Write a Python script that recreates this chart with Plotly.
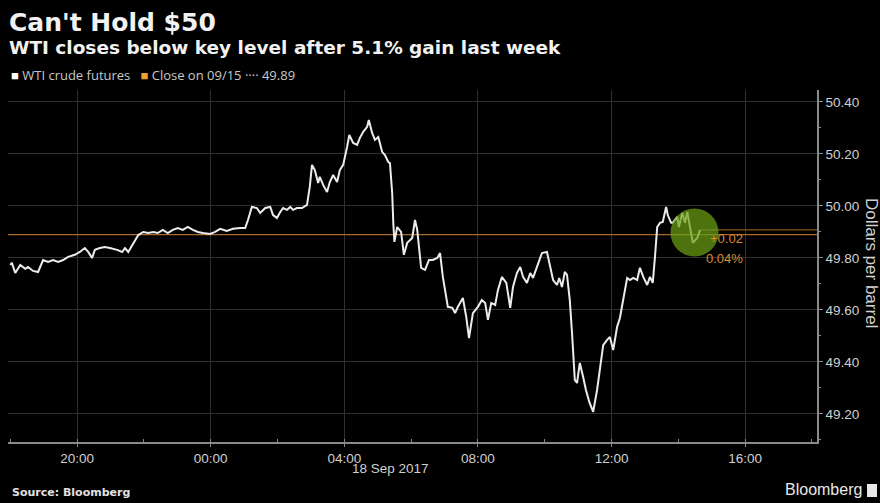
import pandas as pd
import plotly.graph_objects as go

# ---- data ----
minutes = [0, 3, 9, 18, 27, 32, 41, 50, 59, 68, 77, 86, 95, 104, 116, 125, 134, 140, 147, 152,
           161, 170, 179, 192, 201, 206, 212, 221, 230, 239, 248, 257, 265, 274, 283, 292, 301, 310, 319, 328,
           337, 346, 359, 368, 377, 389, 400, 413, 422, 427, 434, 443, 449, 458, 467, 472, 479, 485, 490, 497,
           503, 508, 515, 524, 533, 538, 542, 547, 553, 556, 562, 569, 574, 580, 587, 592, 598, 605, 609, 616,
           623, 628, 634, 641, 644, 650, 655, 661, 668, 673, 679, 682, 686, 688, 690, 695, 702, 707, 713, 722,
           727, 731, 738, 745, 752, 759, 767, 772, 777, 786, 794, 799, 804, 813, 819, 824, 831, 840, 847, 853,
           858, 864, 871, 876, 883, 891, 898, 903, 910, 916, 921, 928, 934, 939, 946, 955, 964, 970, 975, 982,
           986, 991, 996, 1000, 1005, 1009, 1014, 1018, 1023, 1029, 1034, 1040, 1047, 1054, 1059, 1065, 1072, 1077, 1083, 1090,
           1095, 1101, 1108, 1113, 1119, 1126, 1131, 1137, 1144, 1149, 1154, 1158, 1162, 1167, 1172, 1178, 1181, 1187, 1190, 1198,
           1201, 1207, 1212, 1216, 1221, 1226, 1234, 1239]
price = [49.773, 49.781, 49.742, 49.773, 49.758, 49.765, 49.750, 49.746, 49.792, 49.785, 49.792, 49.785, 49.792, 49.804, 49.812, 49.823, 49.838, 49.823, 49.800, 49.831,
         49.838, 49.842, 49.838, 49.831, 49.823, 49.838, 49.823, 49.858, 49.888, 49.900, 49.896, 49.900, 49.896, 49.908, 49.896, 49.908, 49.915, 49.908, 49.919, 49.908,
         49.900, 49.896, 49.892, 49.900, 49.912, 49.904, 49.912, 49.915, 49.915, 49.946, 49.996, 49.992, 49.973, 49.992, 49.996, 49.965, 49.954, 49.977, 49.992, 49.985,
         49.996, 49.985, 49.992, 49.992, 50.004, 50.073, 50.158, 50.138, 50.088, 50.112, 50.081, 50.054, 50.092, 50.119, 50.092, 50.138, 50.158, 50.227, 50.273, 50.242,
         50.235, 50.262, 50.285, 50.304, 50.331, 50.281, 50.254, 50.265, 50.208, 50.196, 50.169, 50.165, 50.050, 49.935, 49.862, 49.919, 49.900, 49.812, 49.858, 49.877,
         49.946, 49.908, 49.762, 49.754, 49.792, 49.792, 49.800, 49.819, 49.727, 49.612, 49.608, 49.588, 49.612, 49.646, 49.573, 49.492, 49.588, 49.612, 49.638, 49.627,
         49.562, 49.627, 49.619, 49.677, 49.727, 49.704, 49.608, 49.688, 49.742, 49.765, 49.727, 49.704, 49.742, 49.723, 49.762, 49.819, 49.823, 49.765, 49.715, 49.696,
         49.723, 49.688, 49.746, 49.735, 49.638, 49.512, 49.331, 49.319, 49.396, 49.342, 49.292, 49.246, 49.208, 49.292, 49.381, 49.465, 49.485, 49.496, 49.446, 49.535,
         49.569, 49.638, 49.723, 49.715, 49.723, 49.715, 49.762, 49.727, 49.696, 49.727, 49.704, 49.804, 49.919, 49.935, 49.938, 49.996, 49.965, 49.935, 49.935, 49.958,
         49.919, 49.973, 49.935, 49.977, 49.919, 49.858, 49.877, 49.908]
start_time = "2017-09-17 18:00"
prev_close = 49.89
change = "+0.02"
change_pct = "0.04%"
y_ticks = [49.20, 49.40, 49.60, 49.80, 50.00, 50.20, 50.40]

times = pd.Timestamp(start_time) + pd.to_timedelta(minutes, unit="min")

ORANGE = "#d98a35"
GRID = "#303030"
AXIS = "#8a8a8a"
TXT = "#d0d0d0"

fig = go.Figure()
x_lo = pd.Timestamp("2017-09-17 17:56")
x_hi = pd.Timestamp("2017-09-18 18:09")

# previous close line
fig.add_trace(go.Scatter(x=[x_lo, x_hi], y=[prev_close, prev_close], mode="lines",
                         line=dict(color="#a8682e", width=1.2), hoverinfo="skip", showlegend=False))
# last price line
fig.add_trace(go.Scatter(x=[times[-1], x_hi], y=[price[-1], price[-1]], mode="lines",
                         line=dict(color="#a8682e", width=1), hoverinfo="skip", showlegend=False))
# price line
fig.add_trace(go.Scatter(x=times, y=price, mode="lines",
                         line=dict(color="#ececec", width=2), showlegend=False))
# highlight circle at the latest price
fig.add_trace(go.Scatter(x=[times[-1] - pd.Timedelta(minutes=10)], y=[price[-1] - 0.01], mode="markers",
                         marker=dict(size=48, color="rgba(105,160,20,0.72)", line=dict(width=0)),
                         hoverinfo="skip", showlegend=False))

def py(px):  # pixel row -> paper y
    return (442 - px) / 352

def px_(x):  # pixel col -> paper x
    return (x - 8) / 809

ann = [
    dict(text="<b>Can't Hold $50</b>", x=px_(7), y=py(22), font=dict(size=25, color="#f2f2f2", family="DejaVu Sans"), xanchor="left"),
    dict(text="<b>WTI closes below key level after 5.1% gain last week</b>", x=px_(7), y=py(47),
         font=dict(size=18.5, color="#f2f2f2", family="DejaVu Sans"), xanchor="left"),
    dict(text="<span style='color:#ffffff'>■</span> WTI crude futures   <span style='color:#f0a030'>■</span> Close on 09/15 ···· 49.89",
         x=px_(9), y=py(75), font=dict(size=13, color="#c8c8c8", family="Open Sans"), xanchor="left"),
    dict(text="18 Sep 2017", x=px_(390), y=py(468), font=dict(size=13.5, color=TXT, family="Liberation Sans"), xanchor="center"),
    dict(text="<b>Source: Bloomberg</b>", x=px_(10), y=py(492), font=dict(size=11, color="#e0e0e0", family="DejaVu Sans"), xanchor="left"),
    dict(text="Bloomberg", x=px_(864), y=py(489), font=dict(size=16, color="#e8e8e8", family="Liberation Sans"), xanchor="right"),
    dict(text="Dollars per barrel", x=px_(872), y=py(263), textangle=90, font=dict(size=17, color=TXT, family="Liberation Sans"), xanchor="center"),
    dict(text=change, x=px_(745), y=py(238), font=dict(size=13, color=ORANGE, family="Liberation Sans"), xanchor="right"),
    dict(text=change_pct, x=px_(745), y=py(258), font=dict(size=13, color=ORANGE, family="Liberation Sans"), xanchor="right"),
]
for a in ann:
    a.update(xref="paper", yref="paper", showarrow=False, yanchor="middle")

fig.update_layout(
    width=880, height=503,
    margin=dict(l=8, r=63, t=90, b=61),
    paper_bgcolor="black", plot_bgcolor="black",
    annotations=ann,
    shapes=[dict(type="rect", xref="paper", yref="paper", x0=px_(867), x1=px_(877), y0=py(497), y1=py(484),
                 fillcolor="#e8e8e8", line=dict(width=0))],
    xaxis=dict(range=[x_lo, x_hi], type="date", tick0="2017-09-17 20:00", dtick=4 * 3600 * 1000,
               tickformat="%H:%M", showgrid=True, gridcolor=GRID, gridwidth=1,
               showline=True, linecolor=AXIS, linewidth=1.5, ticks="outside", ticklen=3, tickcolor=AXIS,
               tickfont=dict(size=13.5, color=TXT, family="Liberation Sans"), zeroline=False,
               minor=dict(dtick=2 * 3600 * 1000, tick0="2017-09-17 20:00", ticks="inside", ticklen=3, tickcolor=AXIS, showgrid=False)),
    yaxis=dict(range=[49.092, 50.446], side="right", tickvals=y_ticks, tickformat=".2f",
               showgrid=True, gridcolor=GRID, gridwidth=1, showline=True, linecolor=AXIS, linewidth=1.5,
               ticks="outside", ticklen=4, tickcolor=AXIS, zeroline=False,
               tickfont=dict(size=13.5, color=TXT, family="Liberation Sans"),
               minor=dict(dtick=0.1, tick0=49.1, ticks="outside", ticklen=2, tickcolor=AXIS, showgrid=False)),
    showlegend=False,
)

fig.write_html("out.html")
